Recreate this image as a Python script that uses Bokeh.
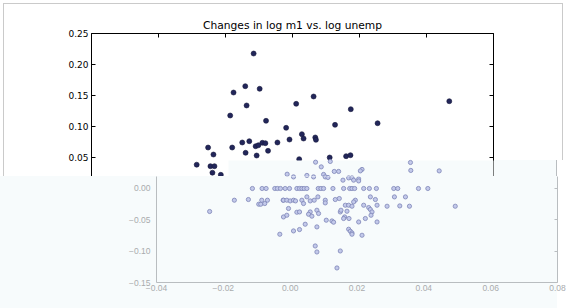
from bokeh.plotting import figure
from bokeh.layouts import column
from bokeh.models import (Range1d, LinearAxis, FixedTicker, PrintfTickFormatter,
                          CustomJSTickFormatter, BoxAnnotation, ColumnDataSource)
from bokeh.embed import file_html
from bokeh.resources import INLINE

# ---------------- data ----------------
title_text = "Changes in log m1 vs. log unemp"

# upper (matplotlib-style) scatter
m1_change = [0.0084, 0.0059, 0.0024, 0.0102, 0.0063, 0.0014, 0.0121, -0.0052, 0.0020, 0.0050,
             0.0071, 0.0090, 0.0098, 0.0110, 0.0119, 0.0155, -0.0036, 0.0060, 0.0093, 0.0127,
             0.0263, 0.0211, 0.0374, 0.0181, 0.0327, 0.0454, 0.0668, 0.0191, 0.0228, 0.0233,
             0.0268, 0.0270, 0.0220, 0.0311, 0.0360, 0.0373, -0.0086, -0.0045, -0.0033, -0.0039,
             -0.0014]
unemp_change = [0.2177, 0.1650, 0.1548, 0.1608, 0.1339, 0.1177, 0.1092, 0.0661, 0.0661, 0.0742,
                0.0763, 0.0682, 0.0698, 0.0737, 0.0731, 0.0742, 0.0548, 0.0576, 0.0532, 0.0608,
                0.1484, 0.1366, 0.1279, 0.0979, 0.1027, 0.1053, 0.1408, 0.0790, 0.0876, 0.0806,
                0.0823, 0.0785, 0.0473, 0.0500, 0.0521, 0.0537, 0.0384, 0.0360, 0.0360, 0.0255,
                0.0221]

# lower (washed-out overlay) scatter
m1_change_b = [-0.0113, -0.0084, -0.0072, -0.0046, -0.0038, -0.0029, -0.0015, -0.0002, 0.0020, 0.0028,
               0.0035, 0.0042, 0.0050, 0.0084, 0.0092, 0.0100, 0.0128, 0.0160, 0.0178, 0.0185,
               0.0193, 0.0220, 0.0237, 0.0258, 0.0310, 0.0322, 0.0384, 0.0412,
               -0.0241, -0.0167, -0.0125, -0.0094, -0.0088, -0.0085, -0.0068, -0.0076, -0.0031, -0.0021,
               0.0076, 0.0093, 0.0120, 0.0132, 0.0145, 0.0215, 0.0210, 0.0360, 0.0361, 0.0446,
               -0.0009, 0.0010, 0.0050, 0.0070, 0.0100, 0.0105, 0.0113, 0.0158, 0.0175, 0.0185,
               0.0190, 0.0205, 0.0205,
               0.0050, 0.0083, 0.0135, 0.0147, 0.0240, 0.0255, 0.0312, 0.0345,
               -0.0020, -0.0010, 0.0000, 0.0010, 0.0016, 0.0035, 0.0040, 0.0060, 0.0072, 0.0105,
               0.0105, 0.0165, 0.0175, 0.0185, 0.0195, 0.0190, 0.0220, 0.0235, 0.0240, 0.0245,
               0.0260, 0.0290, 0.0328, 0.0357, 0.0494, -0.0005, 0.0020, 0.0028, -0.0020, -0.0010,
               0.0060, 0.0055, 0.0065, 0.0080, 0.0085, 0.0150, 0.0152, 0.0163, 0.0160, 0.0170,
               0.0176, 0.0205, 0.0225, 0.0242, 0.0260, 0.0108, 0.0125, 0.0130, 0.0045, 0.0080,
               0.0010, 0.0028, 0.0175, 0.0180, 0.0185, 0.0185, 0.0215, 0.0075, 0.0080, 0.0150,
               0.0140]
unemp_change_b = [0.0, 0.0, 0.0, 0.0, 0.0, 0.0, 0.0, 0.0, 0.0, 0.0,
                  0.0, 0.0, 0.0, 0.0, 0.0, 0.0, 0.0, 0.0, 0.0, 0.0,
                  0.0, 0.0, 0.0, 0.0, 0.0, 0.0, 0.0, 0.0,
                  -0.0367, -0.0187, -0.0176, -0.0251, -0.0251, -0.0187, -0.0187, -0.0240, -0.0730, -0.0187,
                  0.0420, 0.0345, 0.0431, 0.0272, 0.0272, 0.0304, 0.0281, 0.0415, 0.0288, 0.0281,
                  0.0228, 0.0185, 0.0208, 0.0185, 0.0224, 0.0185, 0.0176, 0.0133, 0.0169, 0.0169,
                  0.0133, 0.0153, 0.0121,
                  -0.0134, -0.0134, -0.0176, -0.0160, -0.0134, -0.0176, -0.0134, -0.0134,
                  -0.0187, -0.0187, -0.0198, -0.0187, -0.0198, -0.0187, -0.0240, -0.0198, -0.0187, -0.0187,
                  -0.0230, -0.0267, -0.0267, -0.0283, -0.0187, -0.0214, -0.0267, -0.0304, -0.0335, -0.0374,
                  -0.0267, -0.0283, -0.0278, -0.0283, -0.0283, -0.0319, -0.0379, -0.0374, -0.0454, -0.0427,
                  -0.0374, -0.0411, -0.0442, -0.0347, -0.0399, -0.0374, -0.0347, -0.0454, -0.0479, -0.0363,
                  -0.0479, -0.0534, -0.0479, -0.0427, -0.0534, -0.0506, -0.0518, -0.0538, -0.0570, -0.0613,
                  -0.0677, -0.0655, -0.0650, -0.0682, -0.0709, -0.0730, -0.0746, -0.0917, -0.1013, -0.0997,
                  -0.1268]

x_ticks = [-0.04, -0.02, 0.0, 0.02, 0.04, 0.06, 0.08]
y_ticks_top = [0.05, 0.10, 0.15, 0.20, 0.25]
y_ticks_bottom = [-0.15, -0.10, -0.05, 0.00]

# ---------------- layout geometry ----------------
W = 566
H_SPLIT = 176                 # page row where the lower panel begins
H1, H2 = H_SPLIT, 308 - H_SPLIT
X_MIN, X_MAX = -0.04, 0.08

F1_L, F1_R, F1_T = 91, 493, 33          # upper chart frame (page px)
Y1_PX = 620.0                            # px per unit, upper chart
Y1_MAX = 0.25
Y1_MIN = Y1_MAX - (H1 - F1_T) / Y1_PX

F2_L, F2_R, F2_B = 156, 557, 282        # lower chart frame (page px)
Y2_PX = 626.7
Y2_MIN = -0.15
Y2_MAX = Y2_MIN + (F2_B - H_SPLIT) / Y2_PX
OV_X0, OV_Y0 = 228, 160                  # upper-right part of the overlay starts here
X2_PX = (F2_R - F2_L) / (X_MAX - X_MIN)

BG2 = "#f7fbfc"
DOT = "#22265a"
DOT_LINE = "#15173a"
AX2 = "#b9bdc0"
LAB2 = "#a9abad"
BORDER = "#cacaca"
PT2_FILL, PT2_LINE = "#c3c9ea", "#7c84b6"

blank = CustomJSTickFormatter(code="return '';")


def solid(color):
    return f"linear-gradient({color},{color})"


# background (behind the transparent border area of the upper canvas):
# grey frame of the original image + the part of the overlay right of the upper frame
bg1 = ", ".join([
    f"{solid(BORDER)} 3px 3px / 1px {H1 - 3}px no-repeat",
    f"{solid(BORDER)} 3px 3px / {562 - 3}px 1px no-repeat",
    f"{solid(BORDER)} 562px 3px / 1px {OV_Y0 - 3}px no-repeat",
    f"{solid(AX2)} {F2_R - 1}px {OV_Y0}px / 1px {H1 - OV_Y0}px no-repeat",
    f"{solid(BG2)} {F1_R}px {OV_Y0}px / {F2_R - F1_R}px {H1 - OV_Y0}px no-repeat",
    "#ffffff",
])
bg2 = f"{solid(BG2)} 0px 0px / {F2_R}px 100% no-repeat, #ffffff"


def canvas_box(**kw):
    return BoxAnnotation(left_units="canvas", right_units="canvas",
                         top_units="canvas", bottom_units="canvas", **kw)


# ---------------- upper chart ----------------
p1 = figure(width=W, height=H1, x_range=Range1d(X_MIN, X_MAX), y_range=Range1d(Y1_MIN, Y1_MAX),
            output_backend="svg", toolbar_location=None,
            x_axis_location=None, y_axis_location=None,
            min_border_left=F1_L, min_border_right=W - F1_R, min_border_top=F1_T, min_border_bottom=0,
            outline_line_color=None, background_fill_color="white",
            border_fill_alpha=0, styles={"background": bg1})
p1.grid.visible = False

p1.title.text = title_text
p1.title.align = "center"
p1.title.text_font = "DejaVu Sans"
p1.title.text_font_size = "10.7px"
p1.title.text_font_style = "normal"
p1.title.text_color = "black"
p1.title.standoff = 3


def mpl_axis(ticks, labels=True):
    ax = LinearAxis(ticker=FixedTicker(ticks=ticks),
                    formatter=PrintfTickFormatter(format="%.2f") if labels else blank,
                    major_tick_in=4, major_tick_out=0, minor_tick_line_color=None,
                    axis_line_color="black", major_tick_line_color="black",
                    major_label_text_font="DejaVu Sans", major_label_text_color="black")
    if labels:
        ax.major_label_text_font_size = "9px"
        ax.major_label_standoff = 3
    else:
        ax.major_label_text_font_size = "1px"
        ax.major_label_text_color = None
        ax.major_label_standoff = 0
    return ax


p1.add_layout(mpl_axis(y_ticks_top), "left")
p1.add_layout(mpl_axis(y_ticks_top, labels=False), "right")
p1.add_layout(mpl_axis(x_ticks, labels=False), "above")

src1 = ColumnDataSource(dict(x=m1_change, y=unemp_change))
p1.scatter("x", "y", source=src1, size=5, fill_color=DOT, line_color=DOT_LINE, line_width=0.6)

# upper-right part of the overlay panel, drawn over the upper chart's frame
p1.add_layout(canvas_box(left=OV_X0, right=F1_R + 2, top=OV_Y0, bottom=H1,
                         fill_color=BG2, fill_alpha=1, line_color=None, level="annotation"))

# lower-chart points that fall in that strip (mapped with the lower chart's scale)
p1.extra_x_ranges = {"lower": Range1d(X_MIN - (F2_L - F1_L) / X2_PX, X_MIN + (F1_R - F2_L) / X2_PX)}
p1.extra_y_ranges = {"lower": Range1d(Y2_MIN + (F2_B - H1) / Y2_PX, Y2_MIN + (F2_B - F1_T) / Y2_PX)}
src2 = ColumnDataSource(dict(x=m1_change_b, y=unemp_change_b))
p1.scatter("x", "y", source=src2, size=4.2, fill_color=PT2_FILL, line_color=PT2_LINE,
           line_width=0.8, x_range_name="lower", y_range_name="lower", level="overlay")

# ---------------- lower (overlay) chart ----------------
p2 = figure(width=W, height=H2, x_range=Range1d(X_MIN, X_MAX), y_range=Range1d(Y2_MIN, Y2_MAX),
            output_backend="svg", toolbar_location=None,
            x_axis_location=None, y_axis_location=None,
            min_border_left=F2_L, min_border_right=W - F2_R, min_border_top=0,
            min_border_bottom=308 - F2_B,
            outline_line_color=None, background_fill_color=BG2,
            border_fill_alpha=0, styles={"background": bg2})
p2.grid.visible = False

fmt = CustomJSTickFormatter(code="return tick.toFixed(2).replace('-', '\\u2212');")


def light_axis(ticks, labels=True, tick_in=0, standoff=4):
    ax = LinearAxis(ticker=FixedTicker(ticks=ticks), formatter=fmt if labels else blank,
                    major_tick_in=tick_in, major_tick_out=0, minor_tick_line_color=None,
                    axis_line_color=AX2, major_tick_line_color=AX2,
                    major_label_text_font="Liberation Sans", major_label_text_color=LAB2)
    if labels:
        ax.major_label_text_font_size = "8.5px"
        ax.major_label_standoff = standoff
    else:
        ax.major_label_text_font_size = "1px"
        ax.major_label_text_color = None
        ax.major_label_standoff = 0
    return ax


p2.add_layout(light_axis(y_ticks_bottom, standoff=6), "left")
p2.add_layout(light_axis(x_ticks, standoff=2), "below")
p2.add_layout(light_axis(y_ticks_bottom, labels=False, tick_in=3), "right")

p2.scatter("x", "y", source=src2, size=4.2, fill_color=PT2_FILL, line_color=PT2_LINE, line_width=0.8)

layout = column(column(p1), column(p2), spacing=0)
open("out.html", "w").write(file_html(layout, INLINE))
